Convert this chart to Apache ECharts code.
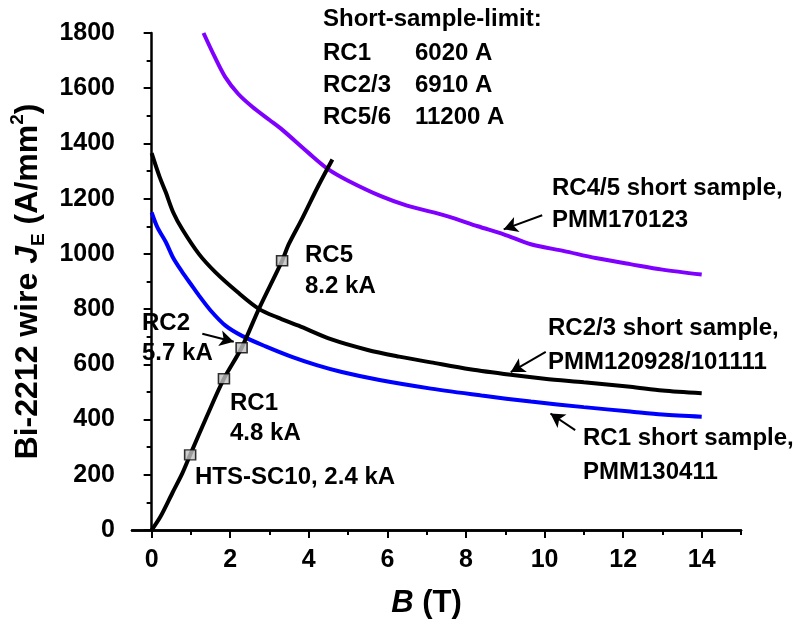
<!DOCTYPE html>
<html><head><meta charset="utf-8">
<script src="https://cdn.jsdelivr.net/npm/echarts@6/dist/echarts.min.js"></script>
<style>html,body{margin:0;padding:0;background:#fff}#c{width:798px;height:624px}</style>
</head><body><div id="c"></div>
<script>
// ---- data ----
const rc45Short = [[1.32,1800],[1.6,1715],[1.87,1641],[2.2,1580],[2.56,1533],[3.0,1485],[3.32,1450],[4.0,1365],[4.5,1306],[5.0,1265],[5.85,1208],[6.5,1175],[7.54,1136],[8.3,1100],[8.96,1071],[9.65,1035],[10.5,1010],[11.3,985],[12.18,963],[13,943],[14,925]];
const rc23Short = [[0,1365],[0.2,1280],[0.36,1223],[0.55,1150],[0.78,1089],[1.2,1000],[1.62,934],[2.2,860],[2.73,801],[3.2,770],[3.74,740],[4.58,690],[5.5,652],[6.3,628],[7.11,607],[8.1,582],[9.14,562],[10,548],[11,535],[12.18,519],[13,505],[14,495]];
const rc1Short = [[0,1150],[0.15,1095],[0.36,1043],[0.55,985],[0.78,934],[1.0,890],[1.21,848],[1.5,795],[1.88,740],[2.3,703],[2.9,665],[3.57,627],[4.2,597],[4.84,572],[5.8,543],[7.11,512],[8.4,487],[9.65,465],[11,445],[12.18,429],[13,418],[14,410]];
const loadLine = [[0,0],[0.23,50],[0.53,135],[0.78,205],[0.98,272],[1.4,410],[1.84,548],[2.29,660],[2.73,801],[3.32,975],[3.49,1035],[3.82,1125],[4.24,1246],[4.6,1342]];
const operatingPoints = [[0.98,272],[1.84,548],[2.29,660],[3.32,975]];
const xMajorTicks = [0,2,4,6,8,10,12,14];
const xMinorTicks = [1,3,5,7,9,11,13,15];
const arrows = [
  [[1.29,711],[2.09,682]],
  [[9.94,1140],[8.96,1089]],
  [[10.03,645],[9.14,572]],
  [[10.78,362],[10.15,422]]
];
const annotations = [
  ['Short-sample-limit:',323,19],
  ['RC1',323,53],['6020 A',415,53],
  ['RC2/3',323,85],['6910 A',415,85],
  ['RC5/6',323,117],['11200 A',415,117],
  ['RC4/5 short sample,',552,188],['PMM170123',552,220],
  ['RC5',305,255],['8.2 kA',305,286],
  ['RC2/3 short sample,',548,328],['PMM120928/101111',548,362],
  ['RC1 short sample,',583,438],['PMM130411',583,472],
  ['RC2',142,323],['5.7 kA',142,353],
  ['RC1',230,403],['4.8 kA',230,433],
  ['HTS-SC10, 2.4 kA',195,477]
];
// ---- chart ----
const FF = '"Liberation Sans", Arial, sans-serif';
const chart = echarts.init(document.getElementById('c'), null, {renderer:'canvas'});
const axisLineStyle = {color:'#000', width:2.5};
const xBase = {
  type:'value', min:-0.5, max:15, position:'bottom',
  axisLine:{show:true, onZero:false, lineStyle:axisLineStyle},
  splitLine:{show:false}
};
chart.setOption({
  animation:false,
  grid:{left:129, right:57, top:33, bottom:92, containLabel:false},
  xAxis:[
    Object.assign({}, xBase, {
      name:'{b|B}{a| (T)}', nameLocation:'middle', nameGap:58,
      nameTextStyle:{padding:[0,20,0,0], rich:{
        b:{fontFamily:FF, fontSize:31, fontWeight:'bold', fontStyle:'italic', color:'#000'},
        a:{fontFamily:FF, fontSize:31, fontWeight:'bold', color:'#000'}}},
      axisTick:{show:true, customValues:xMajorTicks, length:8, lineStyle:{color:'#000', width:2}},
      axisLabel:{customValues:xMajorTicks, fontFamily:FF, fontSize:25, fontWeight:'bold', color:'#000', margin:18}
    }),
    Object.assign({}, xBase, {
      axisTick:{show:true, customValues:xMinorTicks, length:5, lineStyle:{color:'#000', width:2}},
      axisLabel:{show:false, customValues:xMinorTicks}
    })
  ],
  yAxis:{
    type:'value', min:0, max:1800, interval:200,
    axisLine:{show:true, lineStyle:axisLineStyle},
    axisTick:{show:true, length:8, lineStyle:{color:'#000', width:2}},
    minorTick:{show:true, splitNumber:2, length:5, lineStyle:{color:'#000', width:2}},
    splitLine:{show:false},
    axisLabel:{fontFamily:FF, fontSize:25, fontWeight:'bold', color:'#000', margin:17, formatter:v=>String(v)},
    name:'{a|Bi-2212 wire }{i|J}{sub|E}{a| (A/mm}{sup|2}{a|)}',
    nameLocation:'middle', nameGap:84, nameRotate:90,
    nameTextStyle:{rich:{
      a:{fontFamily:FF, fontSize:32, fontWeight:'bold', color:'#000', lineHeight:40, verticalAlign:'middle'},
      i:{fontFamily:FF, fontSize:32, fontWeight:'bold', fontStyle:'italic', color:'#000', lineHeight:40, verticalAlign:'middle'},
      sub:{fontFamily:FF, fontSize:19, fontWeight:'bold', color:'#000', lineHeight:40, verticalAlign:'bottom'},
      sup:{fontFamily:FF, fontSize:19, fontWeight:'bold', color:'#000', lineHeight:40, verticalAlign:'top'}
    }}
  },
  series:[
    {type:'line', name:'RC1 short sample', data:rc1Short, showSymbol:false, smooth:0.3, lineStyle:{color:'#0000ff', width:4}, itemStyle:{color:'#0000ff'}, z:2},
    {type:'line', name:'RC2/3 short sample', data:rc23Short, showSymbol:false, smooth:0.3, lineStyle:{color:'#000', width:4}, itemStyle:{color:'#000'}, z:2},
    {type:'line', name:'RC4/5 short sample', data:rc45Short, showSymbol:false, smooth:0.3, lineStyle:{color:'#8000ff', width:4}, itemStyle:{color:'#8000ff'}, z:2},
    {type:'line', name:'load line', data:loadLine, showSymbol:false, smooth:0.3, lineStyle:{color:'#000', width:4}, itemStyle:{color:'#000'}, z:3,
      markLine:{silent:true, symbol:['none','arrow'], symbolSize:[12,14], label:{show:false},
        lineStyle:{color:'#000', width:2, type:'solid'},
        data:arrows.map(a=>[{coord:a[0]},{coord:a[1]}])}},
    {type:'scatter', name:'operating points', data:operatingPoints, symbol:'rect', symbolSize:[11,10],
      itemStyle:{color:'#c0c0c0', borderColor:'#000', borderWidth:1.5}, z:5}
  ],
  graphic: annotations.map(a=>({type:'text', x:a[1], y:a[2], z:10,
    style:{text:a[0], font:'bold 24px '+FF, fill:'#000', verticalAlign:'middle', align:'left'}}))
});
</script></body></html>
